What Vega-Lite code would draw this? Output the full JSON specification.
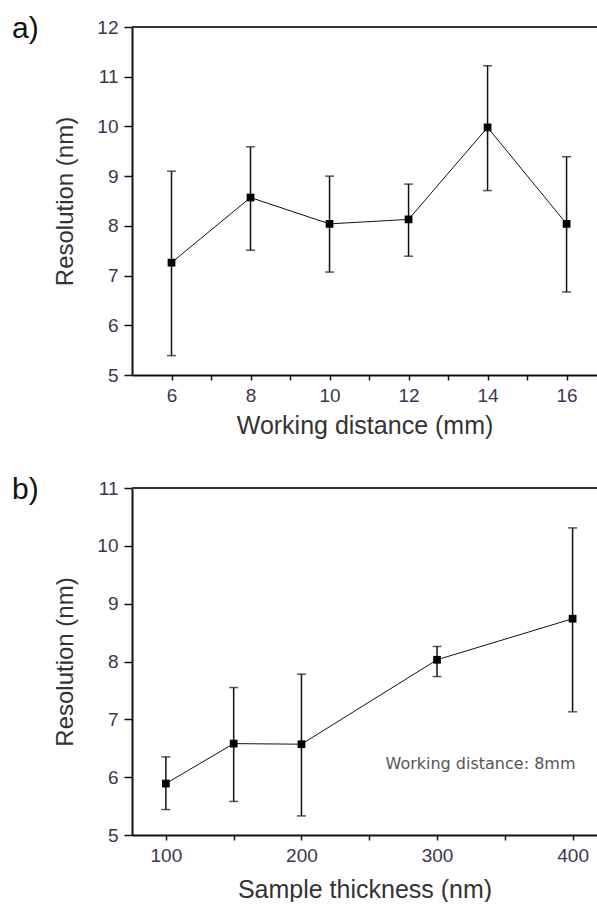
{
  "$schema": "https://vega.github.io/schema/vega-lite/v6.json",
  "autosize": {"type": "pad"},
  "padding": {"left": 12, "top": 14, "right": 0, "bottom": 0},
  "spacing": 37,
  "background": "white",
  "config": {
    "view": {"stroke": null},
    "axis": {
      "grid": false,
      "domainColor": "#111111",
      "domainWidth": 2,
      "tickColor": "#111111",
      "tickWidth": 1.5,
      "labelFont": "Liberation Sans",
      "labelFontSize": 19,
      "labelColor": "#3d3550",
      "labelFlush": false,
      "labelOverlap": false,
      "labelBound": false,
      "titleFont": "Liberation Sans",
      "titleFontSize": 25,
      "titleFontWeight": "normal",
      "titleColor": "#333333"
    },
    "axisY": {"titleFontSize": 24},
    "title": {"font": "Liberation Sans", "fontSize": 30, "fontWeight": "normal", "color": "#111111", "anchor": "start", "frame": "group"}
  },
  "datasets": {
    "wd": [
      {"distance": 6, "resolution": 7.26, "lo": 5.39, "hi": 9.10},
      {"distance": 8, "resolution": 8.57, "lo": 7.51, "hi": 9.59},
      {"distance": 10, "resolution": 8.04, "lo": 7.07, "hi": 9.00},
      {"distance": 12, "resolution": 8.13, "lo": 7.39, "hi": 8.84},
      {"distance": 14, "resolution": 9.98, "lo": 8.71, "hi": 11.22},
      {"distance": 16, "resolution": 8.04, "lo": 6.67, "hi": 9.39}
    ],
    "th": [
      {"thickness": 100, "resolution": 5.89, "lo": 5.44, "hi": 6.35},
      {"thickness": 150, "resolution": 6.58, "lo": 5.58, "hi": 7.55},
      {"thickness": 200, "resolution": 6.57, "lo": 5.33, "hi": 7.78},
      {"thickness": 300, "resolution": 8.03, "lo": 7.74, "hi": 8.26},
      {"thickness": 400, "resolution": 8.74, "lo": 7.13, "hi": 10.31}
    ]
  },
  "vconcat": [
    {
      "width": 465,
      "height": 348,
      "title": {"text": "a)", "dx": -120, "dy": 30, "baseline": "top"},
      "data": {"name": "wd"},
      "layer": [
        {
          "mark": {"type": "rule", "color": "#333333", "strokeWidth": 2},
          "data": {"values": [{}]},
          "encoding": {"y": {"datum": 12, "type": "quantitative", "title": "Resolution (nm)"}}
        },
        {
          "mark": {"type": "errorbar", "thickness": 1.5, "color": "#111111", "ticks": {"size": 9, "thickness": 1.5, "color": "#111111"}},
          "encoding": {
            "x": {"field": "distance", "type": "quantitative", "title": "Working distance (mm)"},
            "y": {"field": "lo", "type": "quantitative", "title": "Resolution (nm)"},
            "y2": {"field": "hi"}
          }
        },
        {
          "mark": {"type": "line", "color": "#111111", "strokeWidth": 1},
          "encoding": {
            "x": {"field": "distance", "type": "quantitative", "title": "Working distance (mm)"},
            "y": {"field": "resolution", "type": "quantitative", "title": "Resolution (nm)"}
          }
        },
        {
          "mark": {"type": "square", "filled": true, "color": "#000000", "size": 60, "opacity": 1},
          "encoding": {
            "x": {
              "field": "distance", "type": "quantitative",
              "title": "Working distance (mm)",
              "scale": {"domain": [5, 16.77], "nice": false, "zero": false},
              "axis": {
                "values": [6, 7, 8, 9, 10, 11, 12, 13, 14, 15, 16],
                "labelExpr": "datum.value % 2 === 0 ? format(datum.value, 'd') : ''",
                "tickSize": 5,
                "labelPadding": 6,
                "titlePadding": 8
              }
            },
            "y": {
              "field": "resolution", "type": "quantitative",
              "title": "Resolution (nm)",
              "scale": {"domain": [5, 12], "nice": false, "zero": false},
              "axis": {
                "values": [5, 5.5, 6, 6.5, 7, 7.5, 8, 8.5, 9, 9.5, 10, 10.5, 11, 11.5, 12],
                "labelExpr": "datum.value % 1 === 0 ? format(datum.value, 'd') : ''",
                "tickSize": {"condition": {"test": "datum.value % 1 !== 0", "value": 4}, "value": 8},
                "labelPadding": 6,
                "titlePadding": 19
              }
            }
          }
        }
      ]
    },
    {
      "width": 465,
      "height": 347,
      "title": {"text": "b)", "dx": -120, "dy": 30, "baseline": "top"},
      "data": {"name": "th"},
      "layer": [
        {
          "mark": {"type": "rule", "color": "#333333", "strokeWidth": 2},
          "data": {"values": [{}]},
          "encoding": {"y": {"datum": 11, "type": "quantitative", "title": "Resolution (nm)"}}
        },
        {
          "mark": {"type": "errorbar", "thickness": 1.5, "color": "#111111", "ticks": {"size": 9, "thickness": 1.5, "color": "#111111"}},
          "encoding": {
            "x": {"field": "thickness", "type": "quantitative", "title": "Sample thickness (nm)"},
            "y": {"field": "lo", "type": "quantitative", "title": "Resolution (nm)"},
            "y2": {"field": "hi"}
          }
        },
        {
          "mark": {"type": "line", "color": "#111111", "strokeWidth": 1},
          "encoding": {
            "x": {"field": "thickness", "type": "quantitative", "title": "Sample thickness (nm)"},
            "y": {"field": "resolution", "type": "quantitative", "title": "Resolution (nm)"}
          }
        },
        {
          "mark": {"type": "square", "filled": true, "color": "#000000", "size": 60, "opacity": 1},
          "encoding": {
            "x": {
              "field": "thickness", "type": "quantitative",
              "title": "Sample thickness (nm)",
              "scale": {"domain": [75, 418], "nice": false, "zero": false},
              "axis": {
                "values": [100, 150, 200, 250, 300, 350, 400],
                "labelExpr": "datum.value % 100 === 0 ? format(datum.value, 'd') : ''",
                "tickSize": 5,
                "labelPadding": 6,
                "titlePadding": 12
              }
            },
            "y": {
              "field": "resolution", "type": "quantitative",
              "title": "Resolution (nm)",
              "scale": {"domain": [5, 11], "nice": false, "zero": false},
              "axis": {
                "values": [5, 5.5, 6, 6.5, 7, 7.5, 8, 8.5, 9, 9.5, 10, 10.5, 11],
                "labelExpr": "datum.value % 1 === 0 ? format(datum.value, 'd') : ''",
                "tickSize": {"condition": {"test": "datum.value % 1 !== 0", "value": 4}, "value": 8},
                "labelPadding": 6,
                "titlePadding": 19
              }
            }
          }
        },
        {
          "mark": {"type": "text", "font": "DejaVu Sans", "fontSize": 16, "color": "#555555", "align": "left", "baseline": "middle"},
          "data": {"values": [{"note": "Working distance: 8mm"}]},
          "encoding": {
            "x": {"datum": 262, "type": "quantitative"},
            "y": {"datum": 6.22, "type": "quantitative"},
            "text": {"field": "note"}
          }
        }
      ]
    }
  ]
}
